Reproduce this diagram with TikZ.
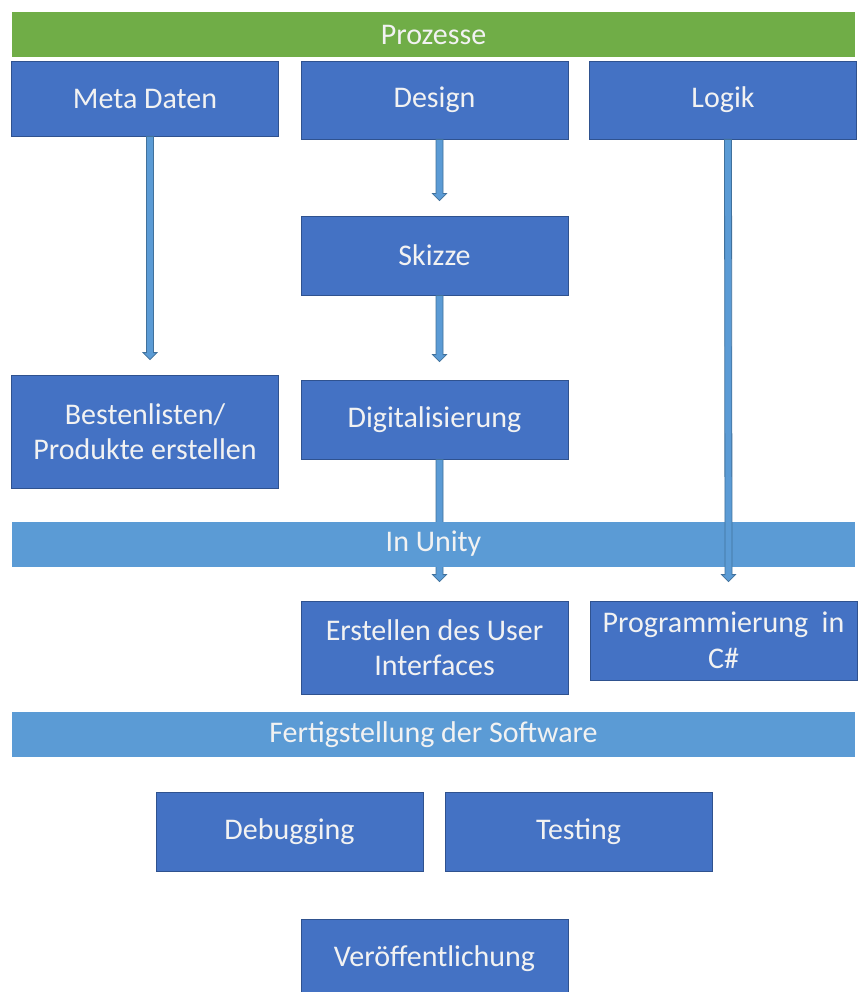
\documentclass[tikz,border=0pt]{standalone}
\usepackage{fontspec}
\setmainfont{Carlito}
\usetikzlibrary{calc}
\definecolor{boxfill}{HTML}{4472C4}
\definecolor{boxline}{HTML}{2F528F}
\definecolor{bandgreen}{HTML}{70AD47}
\definecolor{bandblue}{HTML}{5B9BD5}
\definecolor{arrfill}{HTML}{5B9BD5}
\definecolor{arrline}{HTML}{41719C}
\definecolor{txt}{HTML}{F2F2F2}
\tikzset{
  box/.style={rectangle, draw=boxline, line width=0.8pt, fill=boxfill, text=txt,
    inner sep=0pt, minimum width=267pt, minimum height=79pt, align=center,
    font=\fontsize{30}{35.5}\selectfont},
  band/.style={rectangle, inner sep=0pt, minimum width=843pt, minimum height=45pt,
    text=txt, font=\fontsize{30}{35}\selectfont},
  barrow/.style={fill=arrfill, draw=arrline, line width=0.8pt, line join=miter}
}
\newcommand\blockarrow[2]{%
  \draw[barrow] ($(#1)+(-3.5,0)$) -- ($(#2)+(-3.5,-7)$) -- ($(#2)+(-7,-7)$) -- (#2)
    -- ($(#2)+(7,-7)$) -- ($(#2)+(3.5,-7)$) -- ($(#1)+(3.5,0)$) -- cycle;}
\begin{document}
\begin{tikzpicture}[x=1pt,y=-1pt]
\useasboundingbox (0,0) rectangle (863,992);
\node[band, fill=bandgreen] (proz) at (433.5,34.5) {Prozesse};
\node[box, minimum height=75pt] (meta) at (145,98.5) {Meta Daten};
\node[box, minimum height=78pt] (design) at (434.5,100) {Design};
\node[box, minimum height=78pt] (logik) at (723,100) {Logik};
\node[box] (skizze) at (434.5,255.5) {Skizze};
\node[box, minimum height=113pt] (best) at (145,431.5) {Bestenlisten/\\Produkte erstellen};
\node[box] (digit) at (434.5,419.5) {Digitalisierung};
\node[box, minimum height=93pt] (ui) at (434.5,647.5) {Erstellen des User\\Interfaces};
\node[box] (prog) at (723.5,640.5) {Programmierung~~in\\C\#};
\node[box] (debug) at (289.5,831.5) {Debugging};
\node[box] (test) at (578.5,831.5) {Testing};
\node[box] (veroe) at (434.5,958.5) {Veröffentlichung};

\coordinate (m1) at ($(meta.south)+(5,0)$);
\coordinate (m2) at ($(best.north)+(5,-15)$);
\coordinate (d1) at ($(design.south)+(5,0)$);
\coordinate (d2) at ($(skizze.north)+(5,-15)$);
\coordinate (s1) at ($(skizze.south)+(5,0)$);
\coordinate (s2) at ($(digit.north)+(5,-18)$);
\coordinate (g1) at ($(digit.south)+(5,0)$);
\coordinate (g2) at ($(ui.north)+(5,-19)$);
\coordinate (l1) at ($(logik.south)+(5,0)$);
\coordinate (l2) at ($(prog.north)+(5,-19)$);

\blockarrow{m1}{m2}
\blockarrow{d1}{d2}
\blockarrow{s1}{s2}
\blockarrow{g1}{g2}
\node[band, fill=bandblue] (unity) at (433.5,544) {In Unity};
\blockarrow{l1}{l2}
\node[band, fill=bandblue] (fertig) at (433.5,734.5) {Fertigstellung der Software};
\end{tikzpicture}
\end{document}
